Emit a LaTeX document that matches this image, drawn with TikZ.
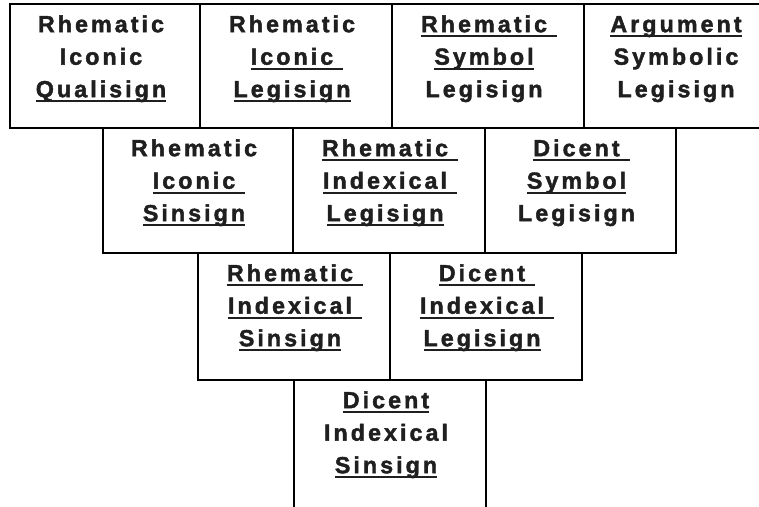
\documentclass[tikz,border=0pt]{standalone}
\usepackage{fontspec}
\newfontfamily\signfont{Liberation Sans}[LetterSpace=13, BoldFeatures={FakeBold=1.8}]
\usetikzlibrary{calc}

% underlined word, and underlined word with a short trailing rule
\newbox\ulbox
\newcommand\ulword[1]{\setbox\ulbox\hbox{#1}\rlap{\rule[-5pt]{\wd\ulbox}{1.8pt}}\box\ulbox}
\newcommand\ultail[1]{\setbox\ulbox\hbox{#1}\rlap{\rule[-5pt]{\dimexpr\wd\ulbox+10pt\relax}{1.8pt}}\box\ulbox}
% fixed line box: 23.5pt above, 9pt below the baseline
\newcommand\lstrut{\rule[-9pt]{0pt}{32.5pt}}

\tikzset{
  cell/.style={draw=black, line width=1.8pt, inner sep=0pt, outer sep=0pt, rectangle},
  signtext/.style={anchor=north, inner sep=0pt, align=center, text=black!88,
    font=\signfont\bfseries\fontsize{23.3}{32.5}\selectfont},
}

% name, x1, y1, x2, y2, three lines of text
\newcommand\signcell[8]{%
  \node[cell, minimum width={#4-#2}, minimum height={#5-#3}] (#1) at ({(#2+#4)/2},{(#3+#5)/2}) {};
  \node[signtext] (#1-text) at ([xshift=-4pt, yshift=-4.5pt]#1.north) {\lstrut#6\\\lstrut#7\\\lstrut#8};
}

\begin{document}
\begin{tikzpicture}[x=1pt, y=-1pt]
  \useasboundingbox (0,0) rectangle (759,506);
  \fill[white] (0,0) rectangle (759,506);

  % first row
  \signcell{a1}{10}{4}{200}{128}{Rhematic}{Iconic}{\ulword{Qualisign}}
  \signcell{a2}{200}{4}{392}{128}{Rhematic}{\ultail{Iconic}}{\ulword{Legisign}}
  \signcell{a3}{392}{4}{584}{128}{\ultail{Rhematic}}{\ulword{Symbol}}{Legisign}
  \signcell{a4}{584}{4}{776}{128}{\ulword{Argument}}{Symbolic}{Legisign}

  % second row
  \signcell{b1}{103}{128}{293}{253}{Rhematic}{\ultail{Iconic}}{\ulword{Sinsign}}
  \signcell{b2}{293}{128}{485}{253}{\ultail{Rhematic}}{\ultail{Indexical}}{\ulword{Legisign}}
  \signcell{b3}{485}{128}{676}{253}{\ultail{Dicent}}{\ulword{Symbol}}{Legisign}

  % third row
  \signcell{c1}{198}{253}{390}{380}{\ultail{Rhematic}}{\ultail{Indexical}}{\ulword{Sinsign}}
  \signcell{c2}{390}{253}{582}{380}{\ultail{Dicent}}{\ultail{Indexical}}{\ulword{Legisign}}

  % fourth row
  \signcell{d1}{294}{380}{486}{512}{\ulword{Dicent}}{Indexical}{\ulword{Sinsign}}
\end{tikzpicture}
\end{document}
